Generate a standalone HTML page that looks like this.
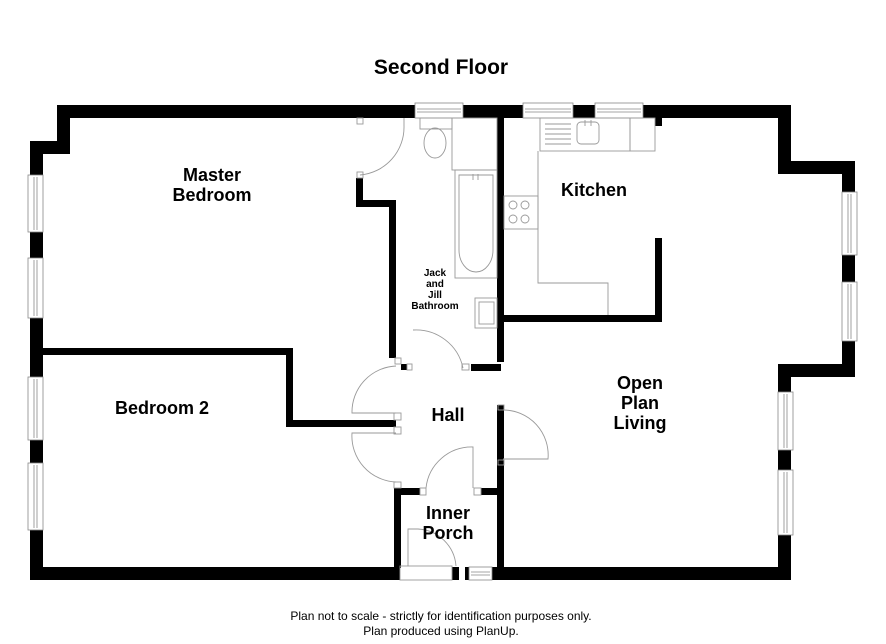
<!DOCTYPE html>
<html><head><style>
html,body{margin:0;padding:0;background:#fff}
svg{display:block}
text{font-family:"Liberation Sans",Arial,sans-serif;font-weight:bold;fill:#000}
</style></head><body>
<svg width="886" height="644" viewBox="0 0 886 644" xmlns="http://www.w3.org/2000/svg">
<text x="441" y="74" font-size="21" text-anchor="middle">Second Floor</text>

<!-- outer walls -->
<g fill="#000">
<rect x="57" y="105" width="734" height="13"/>
<rect x="57" y="105" width="13" height="49"/>
<rect x="30" y="141" width="40" height="13"/>
<rect x="30" y="141" width="13" height="439"/>
<rect x="30" y="567" width="370" height="13"/>
<rect x="465" y="567" width="326" height="13"/>
<rect x="778" y="105" width="13" height="69"/>
<rect x="778" y="161" width="77" height="13"/>
<rect x="842" y="161" width="13" height="216"/>
<rect x="778" y="364" width="77" height="13"/>
<rect x="778" y="364" width="13" height="216"/>
<!-- interior -->
<rect x="497" y="118" width="7" height="244"/>
<rect x="497" y="405" width="7" height="165"/>
<rect x="471" y="364" width="30" height="7"/>
<rect x="504" y="315" width="158" height="7"/>
<rect x="655" y="238" width="7" height="84"/>
<rect x="655" y="118" width="7" height="8"/>
<rect x="356" y="178" width="7" height="27"/>
<rect x="356" y="200" width="40" height="7"/>
<rect x="389" y="200" width="7" height="158"/>
<rect x="401" y="364" width="6" height="6"/>
<rect x="43" y="348" width="249" height="7"/>
<rect x="286" y="348" width="7" height="79"/>
<rect x="286" y="420" width="110" height="7"/>
<rect x="394" y="488" width="7" height="80"/>
<rect x="394" y="488" width="26" height="7"/>
<rect x="481" y="488" width="20" height="7"/>
<rect x="452" y="567" width="7" height="13"/>
</g>

<!-- windows -->
<g fill="#fff" stroke="#888" stroke-width="0.8">
<rect x="28" y="175" width="15" height="57"/><line x1="34" y1="177" x2="34" y2="230"/><line x1="37" y1="177" x2="37" y2="230"/>
<rect x="28" y="258" width="15" height="60"/><line x1="34" y1="260" x2="34" y2="316"/><line x1="37" y1="260" x2="37" y2="316"/>
<rect x="28" y="377" width="15" height="63"/><line x1="34" y1="379" x2="34" y2="438"/><line x1="37" y1="379" x2="37" y2="438"/>
<rect x="28" y="463" width="15" height="67"/><line x1="34" y1="465" x2="34" y2="528"/><line x1="37" y1="465" x2="37" y2="528"/>
<rect x="842" y="192" width="15" height="63"/><line x1="848" y1="194" x2="848" y2="253"/><line x1="851" y1="194" x2="851" y2="253"/>
<rect x="842" y="282" width="15" height="59"/><line x1="848" y1="284" x2="848" y2="339"/><line x1="851" y1="284" x2="851" y2="339"/>
<rect x="778" y="392" width="15" height="58"/><line x1="784" y1="394" x2="784" y2="448"/><line x1="787" y1="394" x2="787" y2="448"/>
<rect x="778" y="470" width="15" height="65"/><line x1="784" y1="472" x2="784" y2="533"/><line x1="787" y1="472" x2="787" y2="533"/>
<rect x="415" y="103" width="48" height="15"/><line x1="417" y1="109" x2="461" y2="109"/><line x1="417" y1="112" x2="461" y2="112"/>
<rect x="523" y="103" width="50" height="15"/><line x1="525" y1="109" x2="571" y2="109"/><line x1="525" y1="112" x2="571" y2="112"/>
<rect x="595" y="103" width="48" height="15"/><line x1="597" y1="109" x2="641" y2="109"/><line x1="597" y1="112" x2="641" y2="112"/>
<rect x="469" y="567" width="23" height="13"/><line x1="471" y1="572" x2="490" y2="572"/><line x1="471" y1="575" x2="490" y2="575"/>
</g>

<!-- fixtures & doors -->
<g fill="none" stroke="#999" stroke-width="0.9">
<!-- master bedroom door -->
<rect x="357" y="118" width="6" height="6"/><rect x="357" y="172" width="6" height="6"/>
<path d="M404 118 L404 126 A48 48 0 0 1 360 175"/>
<!-- WC -->
<rect x="420" y="118" width="32" height="11"/><ellipse cx="435" cy="143" rx="11" ry="15"/>
<rect x="452" y="118" width="45" height="52"/>
<!-- bath -->
<rect x="455" y="170" width="42" height="108"/>
<path d="M459 175 L493 175 L493 250 A17 22 0 0 1 459 250 Z"/>
<line x1="473" y1="174" x2="473" y2="180"/><line x1="478" y1="174" x2="478" y2="180"/>
<!-- basin -->
<rect x="475" y="298" width="22" height="30"/><rect x="479" y="302" width="15" height="22"/>
<!-- bathroom door -->
<rect x="462" y="364" width="7" height="6"/>
<path d="M413 330 A48 48 0 0 1 463 368"/>
<rect x="395" y="358" width="6" height="6"/><rect x="407" y="364" width="5" height="6"/>
<!-- hall doors -->
<path d="M396 366 A46 46 0 0 0 352 413 L396 413"/>
<path d="M396 433 L352 433 A46 46 0 0 0 396 482"/>
<rect x="394" y="413" width="7" height="7"/><rect x="394" y="427" width="7" height="7"/><rect x="394" y="482" width="7" height="6"/>
<path d="M503 410 A45 45 0 0 1 548 459 L503 459"/>
<rect x="498" y="405" width="6" height="5"/><rect x="498" y="460" width="6" height="5"/>
<path d="M426 488 A46 46 0 0 1 473 447 L473 488"/>
<rect x="420" y="488" width="6" height="7"/><rect x="474" y="488" width="7" height="7"/>
<!-- porch door -->
<path d="M408 566 L408 529 L418 529 A40 40 0 0 1 456 566"/>
<rect x="400" y="566" width="52" height="14"/>
<!-- kitchen -->
<rect x="540" y="118" width="90" height="33"/><rect x="630" y="118" width="25" height="33"/>
<line x1="545" y1="124" x2="571" y2="124"/><line x1="545" y1="129" x2="571" y2="129"/><line x1="545" y1="134" x2="571" y2="134"/><line x1="545" y1="139" x2="571" y2="139"/><line x1="545" y1="144" x2="571" y2="144"/>
<rect x="577" y="122" width="22" height="22" rx="4"/>
<line x1="585" y1="120" x2="585" y2="126"/><line x1="591" y1="120" x2="591" y2="126"/>
<path d="M538 151 L538 283 L608 283 L608 315"/>
<rect x="504" y="196" width="34" height="33"/>
<circle cx="513" cy="205" r="4"/><circle cx="525" cy="205" r="4"/><circle cx="513" cy="219" r="4"/><circle cx="525" cy="219" r="4"/>
</g>

<text x="212" y="181" font-size="18" text-anchor="middle">Master</text>
<text x="212" y="201" font-size="18" text-anchor="middle">Bedroom</text>
<text x="594" y="196" font-size="18" text-anchor="middle">Kitchen</text>
<text x="435" y="276" font-size="10" text-anchor="middle">Jack</text>
<text x="435" y="287" font-size="10" text-anchor="middle">and</text>
<text x="435" y="298" font-size="10" text-anchor="middle">Jill</text>
<text x="435" y="309" font-size="10" text-anchor="middle">Bathroom</text>
<text x="162" y="414" font-size="18" text-anchor="middle">Bedroom 2</text>
<text x="448" y="421" font-size="18" text-anchor="middle">Hall</text>
<text x="640" y="389" font-size="18" text-anchor="middle">Open</text>
<text x="640" y="409" font-size="18" text-anchor="middle">Plan</text>
<text x="640" y="429" font-size="18" text-anchor="middle">Living</text>
<text x="448" y="519" font-size="18" text-anchor="middle">Inner</text>
<text x="448" y="539" font-size="18" text-anchor="middle">Porch</text>
<text x="441" y="620" font-size="12" text-anchor="middle" style="font-weight:normal">Plan not to scale - strictly for identification purposes only.</text>
<text x="441" y="635" font-size="12" text-anchor="middle" style="font-weight:normal">Plan produced using PlanUp.</text>
</svg>
</body></html>
